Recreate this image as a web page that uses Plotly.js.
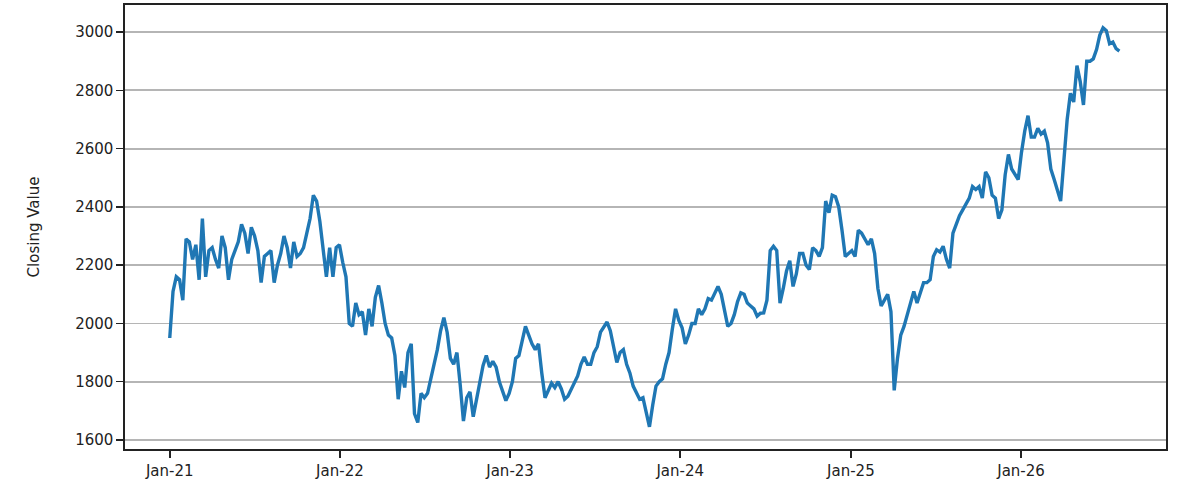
<!DOCTYPE html>
<html>
<head>
<meta charset="utf-8">
<script src="https://cdn.plot.ly/plotly-3.0.1.min.js"></script>
<style>
  html, body { margin: 0; padding: 0; background: #fff; }
  #chart { width: 1191px; height: 504px; }
</style>
</head>
<body>
<div id="chart"></div>
<script>
// weekly closes, first week starts 2021-01-01
const firstWeek = '2021-01-01';

const close2021 = [
  1950, 2110, 2160, 2150, 2080, 2290, 2280, 2220, 2270, 2150,
  2360, 2160, 2250, 2260, 2220, 2190, 2300, 2260, 2150, 2220,
  2250, 2280, 2340, 2310, 2240, 2330, 2300, 2250, 2140, 2230,
  2240, 2250, 2140, 2200, 2240, 2300, 2260, 2190, 2280, 2230,
  2240, 2260, 2310, 2360, 2440, 2420, 2350, 2250, 2160, 2260,
  2160, 2260
];
const close2022 = [
  2270, 2210, 2160, 2000, 1990, 2070, 2030, 2040, 1960, 2050,
  1990, 2090, 2130, 2070, 2000, 1960, 1950, 1890, 1740, 1836,
  1780, 1900, 1930, 1690, 1660, 1760, 1745, 1760, 1810, 1870,
  1910, 1975, 2020, 1970, 1880, 1860, 1900, 1790, 1665, 1745,
  1765, 1680, 1740, 1810, 1855, 1890, 1850, 1870, 1850, 1800,
  1770, 1735
];
const close2023 = [
  1760, 1800, 1880, 1890, 1940, 1990, 1960, 1930, 1910, 1930,
  1830, 1745, 1770, 1795, 1780, 1800, 1775, 1740, 1750, 1775,
  1795, 1820, 1860, 1885, 1860, 1860, 1900, 1920, 1970, 1990,
  2005, 1975, 1920, 1866, 1900, 1910, 1860, 1830, 1785, 1760,
  1740, 1745, 1690, 1645, 1720, 1785, 1800, 1810, 1860, 1900,
  1980, 2050
];
const close2024 = [
  2010, 1985, 1930, 1960, 2000, 2000, 2050, 2030, 2050, 2085,
  2080, 2105, 2127, 2100, 2040, 1990, 2000, 2030, 2075, 2105,
  2100, 2070, 2060, 2050, 2025, 2035, 2036, 2080, 2250, 2265,
  2250, 2070, 2120, 2180, 2215, 2127, 2170, 2240, 2240, 2200,
  2185, 2260, 2250, 2230, 2260, 2420, 2380, 2440, 2435, 2400,
  2320, 2230
];
const close2025 = [
  2240, 2250, 2230, 2320, 2310, 2290, 2270, 2290, 2240, 2120,
  2060, 2080, 2100, 2040, 1770, 1880, 1960, 1990, 2030, 2080,
  2110, 2070, 2110, 2140, 2140, 2150, 2230, 2253, 2245, 2265,
  2220, 2190, 2310, 2340, 2370, 2390, 2410, 2430, 2470, 2460,
  2470, 2430, 2520, 2500, 2440, 2430, 2360, 2390, 2510, 2580,
  2530, 2510
];
const close2026 = [
  2494, 2587, 2660, 2713, 2640, 2640, 2670, 2650, 2660, 2620,
  2530, 2495, 2460, 2420, 2560, 2700, 2790, 2760, 2885, 2830,
  2750, 2900, 2900, 2908, 2940, 2990, 3015, 3005, 2960, 2966,
  2943, 2935
];

const yearTicks = ['2021-01-01', '2022-01-01', '2023-01-01', '2024-01-01', '2025-01-01', '2026-01-01'];
const yearLabels = ['Jan-21', 'Jan-22', 'Jan-23', 'Jan-24', 'Jan-25', 'Jan-26'];
const valueTicks = [1600, 1800, 2000, 2200, 2400, 2600, 2800, 3000];

const closes = [].concat(close2021, close2022, close2023, close2024, close2025, close2026);
const start = new Date(firstWeek + 'T00:00:00Z');
const dates = closes.map((_, i) => {
  const d = new Date(start.getTime() + i * 7 * 86400000);
  return d.toISOString().slice(0, 10);
});

const font = { family: 'DejaVu Sans, sans-serif', size: 15, color: '#222' };

const trace = {
  x: dates,
  y: closes,
  type: 'scatter',
  mode: 'lines',
  line: { color: '#1f77b4', width: 3.4 },
  hoverinfo: 'skip'
};

const layout = {
  width: 1191,
  height: 504,
  margin: { t: 5, b: 55, l: 125, r: 25 },
  paper_bgcolor: '#fff',
  plot_bgcolor: '#fff',
  showlegend: false,
  font,
  xaxis: {
    type: 'date',
    range: ['2020-09-27', '2026-11-08'],
    tickmode: 'array',
    tickvals: yearTicks,
    ticktext: yearLabels,
    ticks: 'outside',
    ticklen: 7,
    tickwidth: 1.5,
    tickcolor: '#222',
    showgrid: false,
    zeroline: false,
    showline: true,
    mirror: true,
    linecolor: '#222',
    linewidth: 1.6,
    tickfont: font
  },
  yaxis: {
    range: [1569, 3093],
    tickmode: 'array',
    tickvals: valueTicks,
    ticks: 'outside',
    ticklen: 7,
    tickwidth: 1.5,
    tickcolor: '#222',
    showgrid: true,
    gridcolor: '#b5b5b5',
    gridwidth: 1.8,
    zeroline: false,
    showline: true,
    mirror: true,
    linecolor: '#222',
    linewidth: 1.6,
    tickfont: font,
    title: { text: 'Closing Value', font, standoff: 32 }
  }
};

Plotly.newPlot('chart', [trace], layout, { displayModeBar: false, staticPlot: true });
</script>
</body>
</html>
